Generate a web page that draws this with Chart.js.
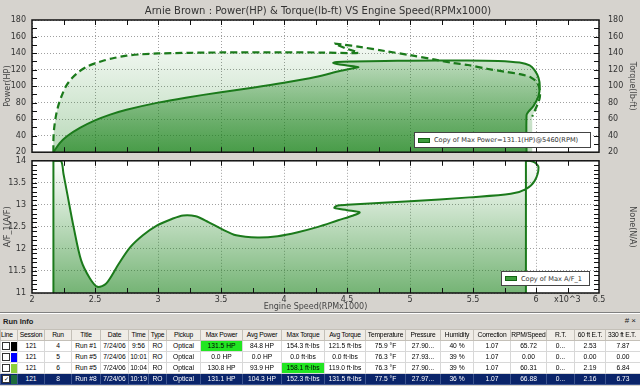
<!DOCTYPE html>
<html>
<head>
<meta charset="utf-8">
<title>Arnie Brown dyno run</title>
<script src="https://cdn.jsdelivr.net/npm/chart.js@4.4.1/dist/chart.umd.min.js"></script>
<style>
html, body { margin: 0; padding: 0; }
body { position: relative; width: 640px; height: 386px; overflow: hidden; background: #d6d3ce; font-family: "DejaVu Sans", sans-serif; }
canvas { position: absolute; left: 0; }
#topChart { top: 0; }
#afChart { top: 150px; }
#title { position: absolute; top: 5px; left: 0; width: 636px; text-align: center; font-size: 10px; color: #333; }
.legend { position: absolute; box-sizing: border-box; background: #fff; border: 1px solid #444; font-size: 6.6px; color: #333; display: flex; align-items: center; white-space: nowrap; }
.legend b { display: inline-block; width: 10px; height: 3px; background: #3c9c3c; border: 1px solid #146414; margin: 0 4px 0 3px; }
#legPower { left: 414px; top: 132px; width: 177px; height: 16px; }
#legAf { left: 501px; top: 271px; width: 89px; height: 15px; }
#x103 { position: absolute; top: 295px; left: 554px; font-size: 8px; color: #333; }
#sep { position: absolute; left: 0; top: 312px; width: 640px; height: 1px; background: #808080; border-bottom: 1px solid #fff; }
#runCap { position: absolute; left: 3px; top: 317px; font-family: "Liberation Sans", Arial, sans-serif; font-size: 7.5px; font-weight: bold; color: #222; }
#runBtns { position: absolute; right: 4px; top: 316px; font-family: "Liberation Sans", Arial, sans-serif; font-size: 8px; color: #222; }
#runTable { position: absolute; left: 0; top: 329px; width: 640px; border-collapse: collapse; table-layout: fixed; font-family: "Liberation Sans", Arial, sans-serif; font-size: 6.7px; color: #000; background: #fff; }
#runTable th, #runTable td { height: 10px; line-height: 10px; padding: 0; border: 1px solid #d8d8d8; text-align: center; white-space: nowrap; overflow: hidden; font-weight: normal; }
#runTable th { background: #efece6; border-color: #c4c0b8; letter-spacing: -0.2px; }
#runTable th:first-child, #runTable td:first-child { text-align: left; }
#runTable th:last-child { text-align: left; padding-left: 2px; }
#runTable tr.sel td { background: #0a246a; color: #fff; border-color: #3d5590; }
#runTable td.best { background: #22e622; }
.cb { display: inline-block; box-sizing: border-box; width: 8px; height: 8px; border: 1px solid #333; background: #fff; vertical-align: middle; margin: 0 1px 0 1px; font-size: 6px; line-height: 6px; color: #000; text-align: center; }
.sw { display: inline-block; width: 7px; height: 9px; vertical-align: middle; }
</style>
</head>
<body>
<canvas id="topChart" width="640" height="166"></canvas>
<canvas id="afChart" width="640" height="162"></canvas>
<div id="title">Arnie Brown : Power(HP) &amp; Torque(lb-ft) VS Engine Speed(RPMx1000)</div>
<div class="legend" id="legPower"><b></b>Copy of Max Power=131.1(HP)@5460(RPM)</div>
<div class="legend" id="legAf"><b></b>Copy of Max A/F_1</div>
<div id="x103">x10^3</div>
<div id="sep"></div>
<div id="runCap">Run Info</div>
<div id="runBtns"># ×</div>
<table id="runTable"></table>
<script>
// values (RPM in thousands)
const xTicks = [2, 2.5, 3, 3.5, 4, 4.5, 5, 5.5, 6, 6.5];
const hpTicks = [20, 40, 60, 80, 100, 120, 140, 160, 180];
const torqueTicks = [20, 40, 60, 80, 100, 120, 140, 160, 180];
const afTicks = [11, 11.5, 12, 12.5, 13, 13.5, 14];

const powerRpm = [2.17, 2.22, 2.28, 2.38, 2.50, 2.62, 2.75, 3.00, 3.22, 3.50, 3.75, 4.00, 4.25, 4.45, 4.57, 4.59, 4.50, 4.42, 4.39, 4.42, 4.55, 4.80, 5.00, 5.46, 5.70, 5.87, 5.95, 5.99, 6.02, 6.03, 6.02, 5.98, 5.94, 5.925, 5.925];
const powerHp = [20, 31, 39.6, 49.4, 58.5, 65.5, 71.4, 80, 86, 92.6, 98, 104, 111, 118.5, 122.3, 123, 125, 126.8, 128, 129.3, 129.9, 130.3, 130.8, 131.1, 130.5, 128.5, 125, 119, 110, 100, 88, 76, 69, 65, 20];

const torqueRpm = [2.17, 2.17, 2.175, 2.19, 2.21, 2.235, 2.27, 2.32, 2.37, 2.43, 2.50, 2.57, 2.65, 2.75, 2.87, 3.00, 3.25, 3.50, 4.00, 4.30, 4.59, 4.50, 4.42, 4.40, 4.47, 4.60, 4.80, 5.00, 5.20, 5.34, 5.46, 5.61, 5.75, 5.87, 5.96, 6.01, 6.03, 6.03, 6.01, 5.99, 5.97];
const torqueLbft = [20, 35, 48, 64, 77, 88, 100, 110, 117, 123, 127.5, 131, 134, 136.8, 138.5, 139.5, 140.3, 140.7, 140.8, 140.6, 140.3, 145, 150, 151.5, 150.3, 147.5, 142.5, 137.5, 132, 128, 125.5, 121, 117.5, 114.5, 110.5, 104, 95, 86, 77, 70, 63];

const afRpm = [2.17, 2.17, 2.17, 2.23, 2.25, 2.28, 2.33, 2.39, 2.46, 2.52, 2.59, 2.69, 2.78, 2.88, 2.99, 3.11, 3.20, 3.30, 3.40, 3.50, 3.62, 3.79, 3.95, 4.11, 4.27, 4.43, 4.55, 4.60, 4.50, 4.40, 4.42, 4.50, 5.00, 5.47, 5.80, 5.92, 5.99, 6.02, 5.99, 5.95, 5.92, 5.92, 5.92];
const afRatio = [11, 13.98, 14, 14, 13.7, 13.25, 12.5, 11.74, 11.33, 11.14, 11.22, 11.67, 12.04, 12.31, 12.53, 12.68, 12.76, 12.74, 12.61, 12.46, 12.31, 12.26, 12.29, 12.38, 12.5, 12.65, 12.76, 12.83, 12.88, 12.93, 12.98, 13.0, 13.08, 13.17, 13.25, 13.36, 13.55, 13.85, 13.96, 14, 14, 13.98, 11];

const runCols = ['Line', 'Session', 'Run', 'Title', 'Date', 'Time', 'Type', 'Pickup', 'Max Power', 'Avg Power', 'Max Torque', 'Avg Torque', 'Temperature', 'Pressure', 'Humidity', 'Correction', 'RPM/Speed', 'R.T.', '60 ft E.T.', '330 ft E.T.'];
const runSwatch = ['#000000', '#0000ff', '#8ccf3c', '#1d6b3b'];
const runRows = [
  ['121', '4', 'Run #1', '7/24/06', '9:56', 'RO', 'Optical', '131.5 HP', '84.8 HP', '154.3 ft·lbs', '121.5 ft·lbs', '75.9 °F', '27.90...', '40 %', '1.07', '65.72', '0...', '2.53', '7.87'],
  ['121', '5', 'Run #5', '7/24/06', '10:01', 'RO', 'Optical', '0.0 HP', '0.0 HP', '0.0 ft·lbs', '0.0 ft·lbs', '76.3 °F', '27.93...', '39 %', '1.07', '0.00', '0...', '0.00', '0.00'],
  ['121', '6', 'Run #5', '7/24/06', '10:04', 'RO', 'Optical', '130.8 HP', '93.9 HP', '158.1 ft·lbs', '119.0 ft·lbs', '76.3 °F', '27.90...', '39 %', '1.07', '60.31', '0...', '2.19', '6.84'],
  ['121', '8', 'Run #8', '7/24/06', '10:19', 'RO', 'Optical', '131.1 HP', '104.3 HP', '152.3 ft·lbs', '131.5 ft·lbs', '77.5 °F', '27.97...', '36 %', '1.07', '66.88', '0...', '2.16', '6.73']
];
const bestCells = ['0:7', '2:9'];
const selectedRow = 3;

// ---- charts ----
Chart.defaults.font.family = "'DejaVu Sans', sans-serif";
Chart.defaults.font.size = 8;
Chart.defaults.color = '#333';

const pts = (xs, ys) => xs.map((x, i) => ({x: x, y: ys[i]}));
const useTicks = list => scale => { scale.ticks = list.map(v => ({value: v})); };
const plain = v => String(v);
const lineGreen = '#1b7a1b';

// white plot, inward tick marks and frame
const frame = {
  id: 'frame',
  beforeDraw(chart) {
    const {ctx, chartArea: a} = chart;
    ctx.save();
    ctx.fillStyle = '#fff';
    ctx.fillRect(a.left, a.top, a.width, a.height);
    ctx.restore();
  },
  afterDraw(chart, args, opts) {
    const {ctx, chartArea: a, scales} = chart;
    const x = scales.x, y = scales.y;
    ctx.save();
    ctx.strokeStyle = '#111';
    ctx.lineWidth = 1;
    ctx.beginPath();
    const nx = Math.round((x.max - x.min) / opts.xStep);
    for (let k = 1; k < nx; k++) {
      const px = Math.round(x.getPixelForValue(x.min + k * opts.xStep)) + 0.5;
      ctx.moveTo(px, a.top); ctx.lineTo(px, a.top + 5);
      ctx.moveTo(px, a.bottom); ctx.lineTo(px, a.bottom - 5);
    }
    const ny = Math.round((y.max - y.min) / opts.yStep);
    for (let k = 1; k < ny; k++) {
      const py = Math.round(y.getPixelForValue(y.min + k * opts.yStep)) + 0.5;
      ctx.moveTo(a.left, py); ctx.lineTo(a.left + 5, py);
      ctx.moveTo(a.right, py); ctx.lineTo(a.right - 5, py);
    }
    ctx.stroke();
    ctx.lineWidth = 1.5;
    ctx.strokeRect(a.left, a.top, a.width, a.height);
    ctx.restore();
  }
};

// gradient shading under each curve, closed down to the bottom of the plot
const areaFill = {
  id: 'areaFill',
  beforeDatasetsDraw(chart) {
    const {ctx, chartArea: a} = chart;
    chart.data.datasets.forEach((ds, i) => {
      if (!ds.shade) return;
      const line = chart.getDatasetMeta(i).dataset;
      const p = line.points;
      ctx.save();
      ctx.beginPath();
      ctx.rect(a.left, a.top, a.width, a.height);
      ctx.clip();
      ctx.beginPath();
      line.path(ctx);
      ctx.lineTo(p[p.length - 1].x, a.bottom);
      ctx.lineTo(p[0].x, a.bottom);
      ctx.closePath();
      const g = ctx.createLinearGradient(0, a.bottom, 0, a.top);
      g.addColorStop(0, ds.shade[0]);
      g.addColorStop(1, ds.shade[1]);
      ctx.fillStyle = g;
      ctx.fill();
      ctx.restore();
    });
  }
};

const grid = {color: '#a0a0a0', drawTicks: false};
const dotted = {display: false, dash: [1, 2]};
const axisTitle = text => ({display: true, text: text, color: '#444', font: {size: 8}, padding: {top: 3, bottom: 0}});
const common = {
  responsive: false,
  animation: false,
  events: [],
  elements: {
    point: {radius: 0},
    line: {borderColor: lineGreen, borderWidth: 2, tension: 0.3, fill: false, borderJoinStyle: 'round'}
  },
  plugins: {legend: {display: false}, tooltip: {enabled: false}}
};

new Chart(document.getElementById('topChart'), {
  type: 'scatter',
  data: {
    datasets: [
      {label: 'Torque', data: pts(torqueRpm, torqueLbft), yAxisID: 'yT', showLine: true,
       borderDash: [7, 4], borderWidth: 2.2,
       shade: ['rgba(25,130,25,0.30)', 'rgba(25,130,25,0)']},
      {label: 'Copy of Max Power=131.1(HP)@5460(RPM)', data: pts(powerRpm, powerHp), yAxisID: 'y', showLine: true,
       shade: ['rgba(25,130,25,0.70)', 'rgba(25,130,25,0)']}
    ]
  },
  options: Object.assign({}, common, {
    layout: {padding: {top: 20, left: 0, right: 0, bottom: 0}},
    plugins: Object.assign({}, common.plugins, {frame: {xStep: 0.25, yStep: 10}}),
    scales: {
      x: {type: 'linear', min: 2, max: 6.5, afterBuildTicks: useTicks(xTicks),
          ticks: {display: false}, grid: grid, border: dotted,
          afterFit: s => { s.height = 10; }},
      y: {position: 'left', min: 20, max: 180, afterBuildTicks: useTicks(hpTicks),
          ticks: {padding: 6, callback: plain}, grid: grid, border: dotted,
          title: axisTitle('Power(HP)'), afterFit: s => { s.width = 32; }},
      yT: {position: 'right', min: 20, max: 180, afterBuildTicks: useTicks(torqueTicks),
           ticks: {padding: 9, callback: plain}, grid: {display: false, drawTicks: false}, border: {display: false},
           title: axisTitle('Torque(lb-ft)'), afterFit: s => { s.width = 41; }}
    }
  }),
  plugins: [frame, areaFill]
});

new Chart(document.getElementById('afChart'), {
  type: 'scatter',
  data: {
    datasets: [
      {label: 'Copy of Max A/F_1', data: pts(afRpm, afRatio), showLine: true,
       shade: ['rgba(25,130,25,0.60)', 'rgba(25,130,25,0)']}
    ]
  },
  options: Object.assign({}, common, {
    layout: {padding: {top: 10, left: 0, right: 0, bottom: 0}},
    plugins: Object.assign({}, common.plugins, {frame: {xStep: 0.25, yStep: 0.1}}),
    scales: {
      x: {type: 'linear', min: 2, max: 6.5, afterBuildTicks: useTicks(xTicks),
          ticks: {padding: 2, autoSkip: false, maxRotation: 0, callback: plain}, grid: grid, border: dotted,
          title: {display: true, text: 'Engine Speed(RPMx1000)', color: '#444', font: {size: 8}, padding: {top: 0, bottom: 0}},
          afterFit: s => { s.height = 19; }},
      y: {position: 'left', min: 11, max: 14, afterBuildTicks: useTicks(afTicks),
          ticks: {padding: 6, callback: plain}, grid: grid, border: dotted,
          title: axisTitle('A/F_1(A/F)'), afterFit: s => { s.width = 32; }},
      yN: {position: 'right', min: 0, max: 1, ticks: {display: false},
           grid: {display: false, drawTicks: false}, border: {display: false},
           title: axisTitle('None(N/A)'), afterFit: s => { s.width = 41; }}
    }
  }),
  plugins: [frame, areaFill]
});

// ---- run info table ----
const colWidths = [17, 27, 27, 29, 28, 20, 18, 34, 42, 39, 43, 41, 40, 35, 33, 37, 36, 28, 31, 35];
const table = document.getElementById('runTable');
let html = '<colgroup>' + colWidths.map(w => '<col style="width:' + w + 'px">').join('') + '</colgroup>';
html += '<tr>' + runCols.map(c => '<th>' + c + '</th>').join('') + '</tr>';
runRows.forEach((row, r) => {
  html += '<tr' + (r === selectedRow ? ' class="sel"' : '') + '>';
  html += '<td><span class="cb">' + (r === selectedRow ? '✓' : '') + '</span><span class="sw" style="background:' + runSwatch[r] + '"></span></td>';
  row.forEach((v, c) => {
    const best = bestCells.indexOf(r + ':' + c) >= 0;
    html += '<td' + (best ? ' class="best"' : '') + '>' + v + '</td>';
  });
  html += '</tr>';
});
table.innerHTML = html;
</script>
</body>
</html>
